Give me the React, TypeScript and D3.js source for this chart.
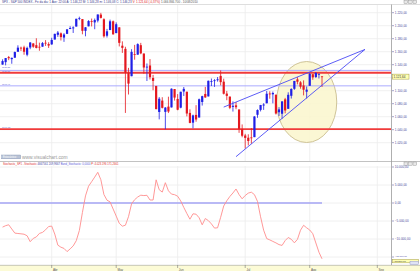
import React from "react";
import * as d3 from "d3";

// ---- Data (SPX daily) ----
const dates = [
  "2010-03-10","2010-03-11","2010-03-12","2010-03-15","2010-03-16","2010-03-17","2010-03-18","2010-03-19",
  "2010-03-22","2010-03-23","2010-03-24","2010-03-25","2010-03-26","2010-03-29","2010-03-30","2010-03-31",
  "2010-04-01","2010-04-05","2010-04-06","2010-04-07","2010-04-08","2010-04-09","2010-04-12","2010-04-13",
  "2010-04-14","2010-04-15","2010-04-16","2010-04-19","2010-04-20","2010-04-21","2010-04-22","2010-04-23",
  "2010-04-26","2010-04-27","2010-04-28","2010-04-29","2010-04-30","2010-05-03","2010-05-04","2010-05-05",
  "2010-05-06","2010-05-07","2010-05-10","2010-05-11","2010-05-12","2010-05-13","2010-05-14","2010-05-17",
  "2010-05-18","2010-05-19","2010-05-20","2010-05-21","2010-05-24","2010-05-25","2010-05-26","2010-05-27",
  "2010-05-28","2010-06-01","2010-06-02","2010-06-03","2010-06-04","2010-06-07","2010-06-08","2010-06-09",
  "2010-06-10","2010-06-11","2010-06-14","2010-06-15","2010-06-16","2010-06-17","2010-06-18","2010-06-21",
  "2010-06-22","2010-06-23","2010-06-24","2010-06-25","2010-06-28","2010-06-29","2010-06-30","2010-07-01",
  "2010-07-02","2010-07-06","2010-07-07","2010-07-08","2010-07-09","2010-07-12","2010-07-13","2010-07-14",
  "2010-07-15","2010-07-16","2010-07-19","2010-07-20","2010-07-21","2010-07-22","2010-07-23","2010-07-26",
  "2010-07-27","2010-07-28","2010-07-29","2010-07-30","2010-08-02","2010-08-03","2010-08-04","2010-08-05",
  "2010-08-06"
];
const opens = [
  1140.22,1143.96,1151.71,1148.53,1150.83,1159.94,1166.13,1166.68,1155.35,1166.47,1172.70,1170.03,1167.58,1167.71,1173.75,1171.75,
  1171.23,1178.71,1186.01,1188.23,1181.75,1187.47,1194.94,1195.94,1198.69,1210.77,1210.17,1192.06,1199.04,1207.16,1205.09,1207.87,
  1217.07,1209.92,1184.59,1193.30,1206.77,1188.58,1197.50,1169.24,1164.38,1127.04,1122.27,1156.39,1155.43,1170.04,1157.19,1136.52,
  1138.78,1119.57,1107.34,1067.26,1084.78,1067.42,1075.51,1074.27,1102.59,1087.30,1073.89,1098.82,1098.43,1065.84,1050.81,1062.75,
  1058.77,1082.65,1095.00,1091.21,1114.02,1115.98,1116.16,1122.79,1113.90,1095.57,1090.93,1075.10,1077.50,1071.10,1040.56,1031.10,
  1027.65,1028.09,1028.54,1062.92,1070.50,1077.23,1080.65,1095.61,1094.46,1093.85,1066.85,1064.53,1086.67,1072.14,1092.17,1102.89,
  1117.36,1112.84,1108.07,1098.44,1107.53,1125.34,1121.06,1125.78,1122.07
];
const highs = [
  1148.26,1150.24,1153.41,1150.98,1160.28,1169.84,1167.77,1169.20,1167.82,1174.72,1173.04,1180.69,1173.93,1174.85,1177.83,1174.56,
  1181.43,1187.73,1191.80,1189.60,1188.55,1194.66,1199.20,1199.04,1210.65,1213.92,1210.17,1197.87,1208.58,1210.99,1210.99,1217.28,
  1219.80,1211.38,1195.05,1209.36,1207.99,1205.13,1197.50,1175.95,1167.58,1135.13,1163.85,1170.48,1172.87,1173.57,1157.19,1141.88,
  1148.66,1124.27,1107.34,1090.16,1089.95,1074.75,1090.75,1103.52,1102.59,1094.77,1098.42,1105.67,1098.43,1071.36,1063.15,1077.74,
  1087.85,1092.25,1105.91,1115.59,1118.74,1117.72,1121.01,1131.23,1118.50,1099.64,1090.93,1083.56,1082.60,1071.10,1048.08,1033.58,
  1032.95,1042.50,1060.89,1071.25,1078.16,1080.78,1099.46,1099.08,1098.66,1093.85,1074.70,1083.94,1088.96,1097.50,1103.73,1115.01,
  1120.95,1114.66,1115.90,1106.44,1127.30,1125.44,1128.75,1126.56,1122.07
];
const lows = [
  1140.09,1138.99,1146.97,1141.45,1150.35,1159.94,1161.16,1155.33,1152.88,1163.83,1166.01,1165.09,1161.48,1167.71,1168.92,1165.77,
  1170.69,1178.71,1182.77,1177.25,1175.12,1187.15,1194.71,1188.82,1198.69,1208.50,1186.77,1183.68,1199.04,1198.85,1194.58,1205.10,
  1211.07,1181.62,1181.81,1193.30,1186.32,1188.58,1168.12,1158.15,1065.79,1094.15,1122.27,1147.71,1155.43,1156.14,1126.14,1114.96,
  1117.20,1100.66,1071.58,1055.90,1072.70,1040.78,1065.59,1074.27,1084.78,1069.89,1072.94,1091.81,1060.50,1049.86,1042.17,1052.25,
  1058.77,1077.12,1089.03,1091.21,1107.13,1105.87,1113.93,1108.24,1094.18,1085.31,1071.60,1067.89,1071.45,1035.18,1028.33,1010.91,
  1015.93,1018.35,1028.54,1058.24,1068.10,1070.45,1080.65,1087.68,1080.53,1063.32,1061.11,1056.88,1065.25,1072.14,1087.88,1101.30,
  1109.78,1103.11,1092.82,1088.01,1107.53,1116.76,1119.46,1118.81,1105.78
];
const closes = [
  1145.61,1150.24,1149.99,1150.51,1159.46,1166.21,1165.83,1159.90,1165.81,1174.17,1167.72,1165.73,1166.59,1173.22,1173.27,1169.43,
  1178.10,1187.44,1189.44,1182.45,1186.44,1194.37,1196.48,1197.30,1210.65,1211.67,1192.13,1197.52,1207.17,1205.94,1208.67,1217.28,
  1212.05,1183.71,1191.36,1206.78,1186.69,1202.26,1173.60,1165.87,1128.15,1110.88,1159.73,1155.79,1171.67,1157.44,1135.68,1136.94,
  1120.80,1115.05,1071.59,1087.69,1073.65,1074.03,1067.95,1103.06,1089.41,1070.71,1098.38,1102.83,1064.88,1050.47,1062.00,1055.69,
  1086.84,1091.60,1089.63,1115.23,1114.61,1116.04,1117.51,1113.20,1095.31,1092.04,1073.69,1076.76,1074.57,1041.24,1030.71,1027.37,
  1022.58,1028.06,1060.27,1070.25,1077.96,1078.75,1095.34,1095.17,1096.48,1064.88,1071.25,1083.48,1069.59,1093.67,1102.66,1115.01,
  1113.84,1106.13,1101.53,1101.60,1125.86,1120.46,1127.24,1125.81,1121.64
];
// Stochastic oscillator values (lower panel), one per session
const stoch = [
  -6700,-6300,-6050,-7220,-8360,-8470,-8560,-8670,-9110,-10750,-9830,-9420,-8450,-8170,-7450,-6530,
  -6420,-8640,-11700,-12280,-12610,-13500,-12750,-11920,-10470,-7640,-2640,1970,4670,5920,7200,8530,
  6470,2360,780,310,-1670,-3640,-5640,-6440,-6170,-3810,-220,920,1670,2170,2060,2140,
  830,830,6440,3690,3030,5640,3390,2470,2310,1890,580,-1220,-2920,-4500,-3000,-3110,
  -4110,-6060,-4310,-4890,-5810,-6970,-6890,-3970,-830,610,1810,2780,3890,2330,1170,2080,
  2750,3000,2330,440,-3830,-7560,-9890,-10250,-10670,-11080,-11560,-11780,-10450,-9580,-10080,-11060,
  -10110,-7560,-6190,-6890,-7500,-8530,-11110,-13670,-15500
];

const priceTicks = [1020, 1040, 1060, 1080, 1100, 1120, 1140, 1160, 1180, 1200, 1220];
const oscTicks = [10000, 5000, 0, -5000, -10000, -15000];
const monthLabels = ["Abr", "May", "Jun", "Jul", "Ago", "Sep"];
const monthStarts = ["2010-04-01", "2010-05-03", "2010-06-01", "2010-07-01", "2010-08-02", "2010-09-01"];

// Horizontal levels
const levelPrices = [1131.23, 1127.58, 1107.47, 1040.78];
const levelLabels = ["1131,23", "1127,58", "1107,47", "1040,78"];
const levelKinds = ["thin", "thick", "thin", "thick"];

// Wedge trendlines
const trendStartDates = ["2010-06-22", "2010-06-28"];
const trendStartPrices = [1074.8, 998.5];
const trendEndDates = ["2010-08-26", "2010-08-26"];
const trendEndPrices = [1163.5, 1163.5];

// Ellipse annotation: center date, center price, half-width (sessions), half-height (points)
const ellipseCenterDate = "2010-07-30";
const ellipseCenterPrice = 1082.6;
const ellipseHalfSessions = 9.8;
const ellipseHalfPoints = 62.3;

const loc = d3.formatLocale({ decimal: ",", thousands: ".", grouping: [3], currency: ["", ""] });
const fmt = loc.format(",.2f");

export default function App() {
  const W = 420, H = 271;
  const plotR = 391;
  const priceTop = 5, priceBottom = 161;
  const oscTop = 162, oscBottom = 265;
  const n = dates.length;
  const parse = d3.utcParse("%Y-%m-%d");
  const lastDate = parse(dates[n - 1]) as Date;

  const dayIndex = (s: string): number => {
    const k = dates.indexOf(s);
    if (k >= 0) return k;
    const d = parse(s) as Date;
    let c = 0;
    let t = new Date(lastDate.getTime());
    while (t < d) {
      t = d3.utcDay.offset(t, 1);
      const wd = t.getUTCDay();
      if (wd !== 0 && wd !== 6) c++;
    }
    return n - 1 + c;
  };

  const x = d3.scaleLinear()
    .domain([dayIndex(monthStarts[0]), dayIndex(monthStarts[monthStarts.length - 1])])
    .range([51.7, 377.3]);
  const y = d3.scaleLinear().domain([1020, 1220]).range([142.7, 12.7]);
  const yo = d3.scaleLinear().domain([-15000, 10000]).range([257, 167]);

  const up = "#1f1fe6";
  const down = "#e4181f";
  const grid = "#ececec";
  const axisText = "#4a4a9a";
  const bw = 2.2;

  const stochLine = d3.line<number>().x((_, i) => x(i)).y((v) => yo(v));
  const monthX = monthStarts.map((d) => x(dayIndex(d)));

  const ecx = x(dayIndex(ellipseCenterDate));
  const ecy = y(ellipseCenterPrice);
  const erx = x(dayIndex(ellipseCenterDate) + ellipseHalfSessions) - ecx;
  const ery = y(ellipseCenterPrice - ellipseHalfPoints) - ecy;

  const fontFam = "'Liberation Sans', Arial, sans-serif";

  const buttons = (yy: number) => (
    <g>
      {[404, 408.5, 413].map((bx, k) => (
        <rect key={k} x={bx} y={yy} width={3.6} height={3.2} fill="#e8e8e8" stroke="#8a8a8a" strokeWidth={0.4} />
      ))}
    </g>
  );

  const lastOscY = yo(stoch[n - 1]);

  return (
    <div style={{ position: "absolute", left: 0, top: 0 }}>
      <svg width={W} height={H} style={{ display: "block", fontFamily: fontFam }}>
        <defs>
          <clipPath id="pclip">
            <rect x={0} y={priceTop} width={plotR} height={priceBottom - priceTop} />
          </clipPath>
          <clipPath id="oclip">
            <rect x={0} y={oscTop} width={plotR} height={oscBottom - oscTop} />
          </clipPath>
        </defs>
        <rect x={0} y={0} width={W} height={H} fill="#ffffff" />

        {/* header */}
        <text x={2} y={3.4} fontSize={3} fill="#3a3a8a">
          SPX - S&amp;P 500 INDEX - Fe da dia: 1 Ave: 22:00 A: 1.146,22 M: 1.146,28 m: 1.146,08 C: 1.146,23
          <tspan fill="#e02020"> V: 1.121,64 (-0,37%)</tspan>
          <tspan fill="#555"> 1.066.866.700 - 10/08/2010</tspan>
        </text>
        <line x1={0} x2={W} y1={4.5} y2={4.5} stroke="#c8c8c8" strokeWidth={0.6} />
        {buttons(0.4)}

        {/* price panel grid */}
        <g>
          {priceTicks.map((p) => (
            <line key={p} x1={0} x2={plotR} y1={y(p)} y2={y(p)} stroke={grid} strokeWidth={0.8} />
          ))}
          {monthX.map((mx, k) => (
            <line key={k} x1={mx} x2={mx} y1={priceTop} y2={priceBottom} stroke={grid} strokeWidth={0.8} />
          ))}
        </g>

        <g clipPath="url(#pclip)">
          {/* ellipse */}
          <ellipse cx={ecx} cy={ecy} rx={erx} ry={ery} fill="#faf6cc" fillOpacity={0.85} stroke="#c9bd8e" strokeWidth={0.9} />

          {/* horizontal levels */}
          {levelPrices.map((p, k) => (
            <line key={k} x1={0} x2={plotR} y1={y(p)} y2={y(p)}
              stroke={levelKinds[k] === "thick" ? "#f03a3a" : "#a3a3ff"}
              strokeWidth={levelKinds[k] === "thick" ? 1.8 : 0.9} />
          ))}

          {/* candles */}
          {dates.map((d, i) => {
            const o = opens[i], c = closes[i];
            const col = c >= o ? up : down;
            const top = y(Math.max(o, c));
            const bot = y(Math.min(o, c));
            const cx = x(i);
            return (
              <g key={d}>
                <line x1={cx} x2={cx} y1={y(highs[i])} y2={y(lows[i])} stroke={col} strokeWidth={0.8} />
                <rect x={cx - bw / 2} y={top} width={bw} height={Math.max(bot - top, 0.8)} fill={col} />
              </g>
            );
          })}

          {/* trendlines */}
          {trendStartDates.map((sd, k) => (
            <line key={k}
              x1={x(dayIndex(sd))} y1={y(trendStartPrices[k])}
              x2={x(dayIndex(trendEndDates[k]))} y2={y(trendEndPrices[k])}
              stroke="#4b4bf5" strokeWidth={0.9} />
          ))}

          {/* level labels */}
          {levelPrices.map((p, k) => (
            <text key={k} x={2} y={y(p) - (k === 0 ? 2.6 : 1.1)} fontSize={2.3} fill="#6a6ad0">{levelLabels[k]}</text>
          ))}
        </g>

        {/* watermark */}
        <rect x={1.7} y={155} width={19} height={3.8} fill="#b9c3d6" stroke="#8191b1" strokeWidth={0.4} />
        <text x={3} y={158.1} fontSize={2.6} fill="#ffffff">Estocástico</text>
        <text x={22} y={158.6} fontSize={4.9} fill="#9a9a9a">www.visualchart.com</text>

        {/* panel separator */}
        <line x1={0} x2={W} y1={161.5} y2={161.5} stroke="#a8a8a8" strokeWidth={0.7} />
        {buttons(162)}

        {/* oscillator header */}
        <text x={3} y={165.2} fontSize={2.7} fill="#e02a2a">
          Stochastic_SP1 - Stochastic
          <tspan fill="#3a3aa0"> 4667561 209,9667</tspan>
          <tspan fill="#5a5ad8"> Band_Stochastic: 0,0000</tspan>
          <tspan fill="#e02a2a"> P: 4.023.196 171,2661</tspan>
        </text>

        {/* oscillator grid */}
        <g>
          {oscTicks.map((v) => (
            <line key={v} x1={0} x2={plotR} y1={yo(v)} y2={yo(v)} stroke={grid} strokeWidth={0.8} />
          ))}
          {monthX.map((mx, k) => (
            <line key={k} x1={mx} x2={mx} y1={oscTop + 4} y2={oscBottom} stroke={grid} strokeWidth={0.8} />
          ))}
        </g>
        <g clipPath="url(#oclip)">
          <line x1={0} x2={x(n - 1)} y1={yo(0)} y2={yo(0)} stroke="#a5a5f5" strokeWidth={1.4} />
          <path d={stochLine(stoch) || ""} fill="none" stroke="#ff8c8c" strokeWidth={0.9} />
        </g>

        {/* right axis */}
        <line x1={plotR + 0.5} x2={plotR + 0.5} y1={4.5} y2={oscBottom} stroke="#9a9a9a" strokeWidth={0.8} />
        {priceTicks.map((p) => (
          <g key={p}>
            <line x1={plotR + 1} x2={plotR + 3} y1={y(p)} y2={y(p)} stroke={axisText} strokeWidth={0.5} />
            <text x={plotR + 3.8} y={y(p) + 1} fontSize={3.1} fill={axisText}>{fmt(p)}</text>
          </g>
        ))}
        <rect x={plotR + 1.5} y={y(closes[n - 1]) - 2.5} width={16.5} height={5} fill="#ffffb4" stroke="#a39c45" strokeWidth={0.5} />
        <text x={plotR + 2.5} y={y(closes[n - 1]) + 1.1} fontSize={3.1} fill="#333">{fmt(closes[n - 1])}</text>

        {oscTicks.map((v) => (
          <g key={v}>
            <line x1={plotR + 1} x2={plotR + 3} y1={yo(v)} y2={yo(v)} stroke={axisText} strokeWidth={0.5} />
            <text x={plotR + 3.8} y={yo(v) + (v === -15000 ? 0.2 : 1)} fontSize={v === -15000 ? 2.4 : 3.1} fill={axisText}>{fmt(v)}</text>
          </g>
        ))}
        <rect x={plotR + 1.5} y={lastOscY + 0.6} width={26} height={3.4} fill="#ffffb4" stroke="#a39c45" strokeWidth={0.5} />
        <text x={plotR + 2.3} y={lastOscY + 3.3} fontSize={2.5} fill="#333">{fmt(stoch[n - 1])}</text>
        <rect x={410} y={261.2} width={8.5} height={3.4} fill="#dfe3f5" stroke="#8a8fc0" strokeWidth={0.4} />

        {/* x axis */}
        <rect x={0} y={oscBottom} width={W} height={H - oscBottom} fill="#fcfbd6" />
        <line x1={0} x2={W} y1={oscBottom + 0.3} y2={oscBottom + 0.3} stroke="#a0a0a0" strokeWidth={0.6} />
        {monthX.map((mx, k) => (
          <g key={k}>
            <line x1={mx} x2={mx} y1={oscBottom} y2={oscBottom + 3} stroke="#777" strokeWidth={0.6} />
            <text x={mx + 1.2} y={270.6} fontSize={3} fill="#555">{monthLabels[k]}</text>
          </g>
        ))}
      </svg>
    </div>
  );
}
